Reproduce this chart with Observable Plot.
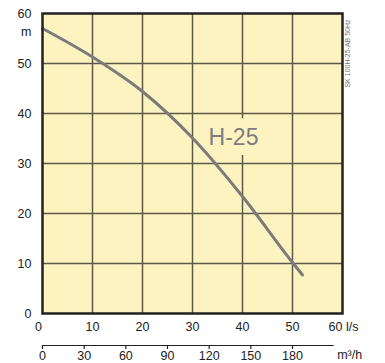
<!DOCTYPE html>
<html>
<head>
<meta charset="utf-8">
<script src="https://cdn.jsdelivr.net/npm/d3@7"></script>
<script src="https://cdn.jsdelivr.net/npm/@observablehq/plot@0.6"></script>
<style>
  html, body { margin: 0; padding: 0; background: #fff; }
  svg { display: block; }
</style>
</head>
<body>
<div id="chart"></div>
<script>
// Flow Q (l/s) vs head H (m) for pump H-25
const flowLs = [0, 10, 20, 30, 40, 50, 52];
const headM  = [57, 51.3, 44.4, 35.1, 23.4, 10.2, 7.7];
const xTicks = [0, 10, 20, 30, 40, 50, 60];
const yTicks = [0, 10, 20, 30, 40, 50, 60];
const m3hTicks = [0, 30, 60, 90, 120, 150, 180];
const m3hAxisEnd = 210;
const lsPerM3h = 1 / 3.6;
const seriesLabel = "H-25";
const codeLabel = "SK 100H-25-AB 50Hz";

const data = flowLs.map((q, i) => ({q, h: headM[i]}));
const font = "Liberation Sans, Arial, Helvetica, sans-serif";
const bg = "#fdf3c0";
const grid = "#5e5847";

const chart = Plot.plot({
  width: 385,
  height: 363,
  marginLeft: 42,
  marginRight: 43,
  marginTop: 13,
  marginBottom: 50,
  style: {fontFamily: font, fontSize: "12.5px", color: "#222", background: "#fff", overflow: "visible"},
  x: {type: "linear", domain: [0, 60]},
  y: {type: "linear", domain: [0, 60]},
  marks: [
    Plot.frame({fill: bg}),
    Plot.gridX(xTicks.slice(1, -1), {stroke: grid, strokeOpacity: 1, strokeWidth: 1.5}),
    Plot.gridY(yTicks.slice(1, -1), {stroke: grid, strokeOpacity: 1, strokeWidth: 1.5}),
    Plot.text([seriesLabel], {x: 38.2, y: 35.1, text: d => d, fontSize: 23, fill: "#7d7d80",
      stroke: bg, strokeWidth: 20, paintOrder: "stroke"}),
    Plot.line(data, {x: "q", y: "h", curve: "monotone-x", stroke: "#7b7b7b", strokeWidth: 3}),
    Plot.frame({stroke: "#222", strokeWidth: 2.5}),
    // y axis
    Plot.axisY(yTicks, {tickSize: 0, tickPadding: 11, label: null, fill: "#222"}),
    Plot.text(["m"], {frameAnchor: "top-left", dx: -11, dy: 18, textAnchor: "end", lineAnchor: "middle", fill: "#222"}),
    // x axis (l/s)
    Plot.axisX(xTicks.slice(1, -1), {tickSize: 0, tickPadding: 9, label: null, fill: "#222"}),
    Plot.text([xTicks[0]], {x: d => d, frameAnchor: "bottom", lineAnchor: "top", dy: 9, dx: -4, text: d => String(d), fill: "#222"}),
    Plot.text([xTicks[xTicks.length - 1]], {x: d => d, frameAnchor: "bottom", lineAnchor: "top", dy: 9, dx: -14, textAnchor: "start", text: d => d + " l/s", fill: "#222"}),
    // second x axis (m3/h)
    Plot.ruleY([0], {x1: 0, x2: m3hAxisEnd * lsPerM3h, dy: 32, stroke: "#222", strokeWidth: 1.2}),
    Plot.ruleX(m3hTicks, {x: d => d * lsPerM3h, y1: 0, y2: 0, insetBottom: -4, dy: 32, stroke: "#222", strokeWidth: 1.2}),
    Plot.text(m3hTicks, {x: d => d * lsPerM3h, frameAnchor: "bottom", lineAnchor: "bottom", dy: 46, text: d => String(d), fill: "#222"}),
    Plot.text(["m³/h"], {x: m3hAxisEnd * lsPerM3h, frameAnchor: "bottom", lineAnchor: "bottom", dy: 45, dx: 3, textAnchor: "start", fill: "#222"}),
    // code label
    Plot.text([codeLabel], {frameAnchor: "top-right", dx: 5, dy: 40, rotate: -90, textAnchor: "middle", lineAnchor: "middle", fontSize: 7, fill: "#777"})
  ]
});
document.getElementById("chart").appendChild(chart);
</script>
</body>
</html>
